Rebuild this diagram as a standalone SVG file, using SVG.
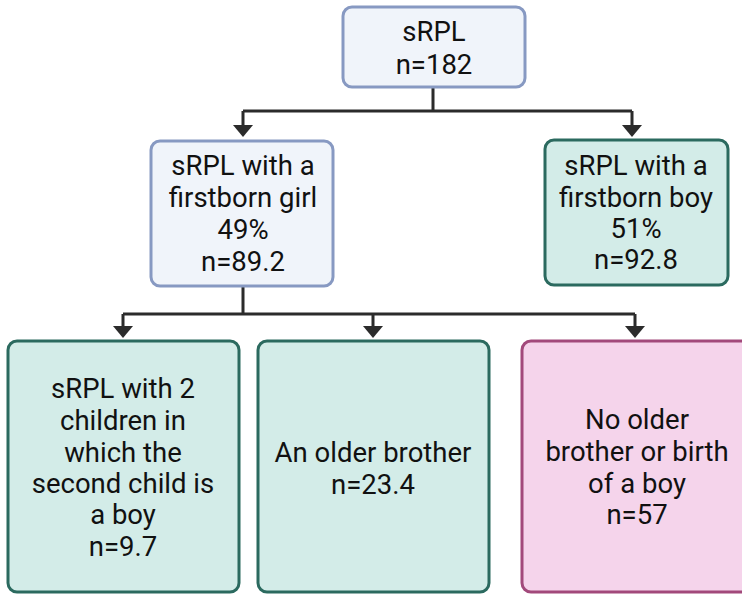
<svg xmlns="http://www.w3.org/2000/svg" width="742" height="595" viewBox="0 0 742 595">
<defs>
<style>
.box{stroke-width:3}
.blue{fill:#f0f4fa;stroke:#8799c2}
.green{fill:#d3ece8;stroke:#2b6a5f}
.pink{fill:#f5d4eb;stroke:#a2497b}
text{font-family:Roboto,"Liberation Sans",sans-serif;font-size:27.5px;fill:#111;text-anchor:middle}
.conn{fill:none;stroke:#2b2b2b;stroke-width:3}
.ah{fill:#2b2b2b}
</style>
</defs>
<rect width="742" height="595" fill="#ffffff"/>
<g id="connectors">
<path class="conn" d="M433,87 V111 M243,111 H632"/>
<path class="conn" d="M243,111 V126 M632,111 V126"/>
<polygon class="ah" points="233,125 253,125 243,137"/>
<polygon class="ah" points="622,125 642,125 632,137"/>
<path class="conn" d="M243,286 V314 M123,314 H635 M123,314 V327 M373,314 V327 M635,314 V327"/>
<polygon class="ah" points="113,326 133,326 123,338"/>
<polygon class="ah" points="363,326 383,326 373,338"/>
<polygon class="ah" points="625,326 645,326 635,338"/>
</g>
<g id="root">
<rect class="box blue" x="343" y="7" width="182" height="80" rx="9"/>
<text x="434" y="41">sRPL</text>
<text x="434" y="74">n=182</text>
</g>
<g id="girl">
<rect class="box blue" x="151" y="141" width="182" height="145" rx="9"/>
<text x="243" y="175">sRPL with a</text>
<text x="243" y="207">firstborn girl</text>
<text x="243" y="239">49%</text>
<text x="243" y="271">n=89.2</text>
</g>
<g id="boy">
<rect class="box green" x="545" y="140" width="183" height="145" rx="9"/>
<text x="636" y="175">sRPL with a</text>
<text x="636" y="207">firstborn boy</text>
<text x="636" y="238">51%</text>
<text x="636" y="269">n=92.8</text>
</g>
<g id="second-boy">
<rect class="box green" x="8" y="341" width="231" height="251" rx="9"/>
<text x="123" y="398">sRPL with 2</text>
<text x="123" y="430">children in</text>
<text x="123" y="462">which the</text>
<text x="123" y="493">second child is</text>
<text x="123" y="524">a boy</text>
<text x="123" y="556">n=9.7</text>
</g>
<g id="older-brother">
<rect class="box green" x="258" y="341" width="231" height="251" rx="9"/>
<text x="373" y="462">An older brother</text>
<text x="373" y="494">n=23.4</text>
</g>
<g id="no-boy">
<rect class="box pink" x="522" y="341" width="235" height="251" rx="9"/>
<text x="637" y="429">No older</text>
<text x="637" y="461">brother or birth</text>
<text x="637" y="493">of a boy</text>
<text x="637" y="524">n=57</text>
</g>
</svg>
